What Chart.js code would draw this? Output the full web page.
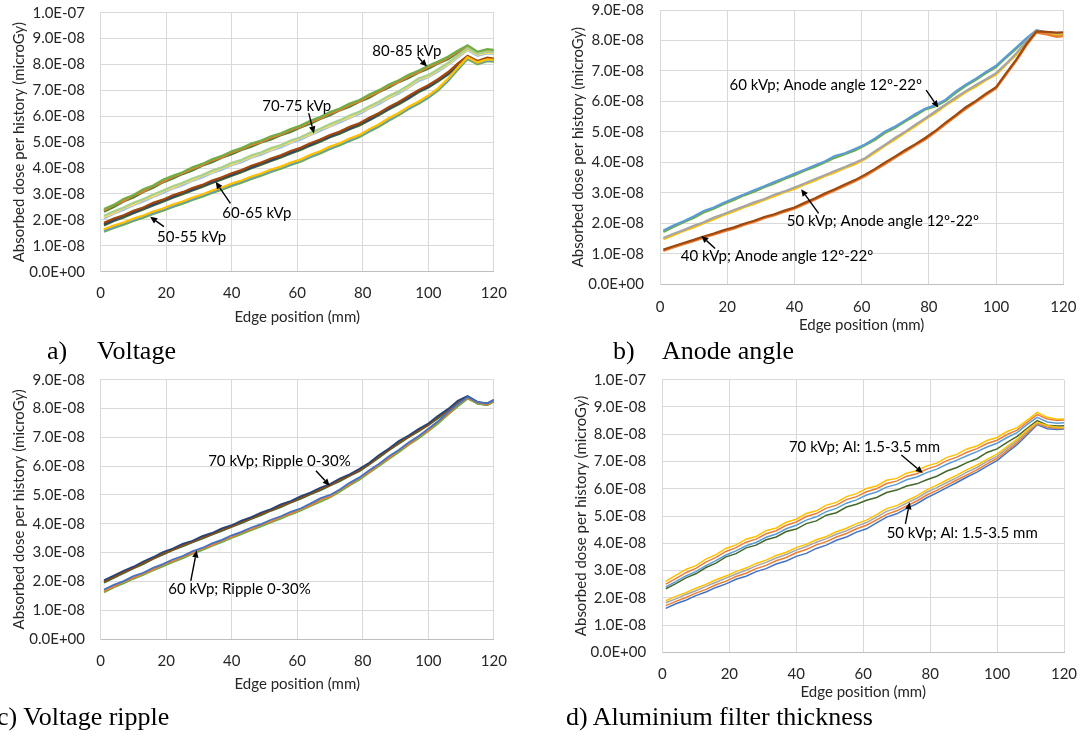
<!DOCTYPE html>
<html>
<head>
<meta charset="utf-8">
<script src="https://cdn.jsdelivr.net/npm/chart.js"></script>
<style>
  html, body { margin: 0; padding: 0; background: #fff; }
  #page { position: relative; width: 1080px; height: 738px; overflow: hidden; }
  canvas { position: absolute; }
  .cap { position: absolute; font-family: "Liberation Serif", "Times New Roman", serif; font-size: 26px; line-height: 26px; color: #000; white-space: nowrap; }
</style>
</head>
<body>
<div id="page">
  <canvas id="chartA" width="540" height="340" style="left:0;top:0"></canvas>
  <canvas id="chartB" width="540" height="340" style="left:540px;top:0"></canvas>
  <canvas id="chartC" width="540" height="340" style="left:0;top:369px"></canvas>
  <canvas id="chartD" width="540" height="340" style="left:540px;top:369px"></canvas>
  <div class="cap" style="left:47px;top:338px">a)</div>
  <div class="cap" style="left:97px;top:338px">Voltage</div>
  <div class="cap" style="left:613px;top:338px">b)</div>
  <div class="cap" style="left:662px;top:338px">Anode angle</div>
  <div class="cap" style="left:-3px;top:704px">c) Voltage ripple</div>
  <div class="cap" style="left:566px;top:704px">d) Aluminium filter thickness</div>
</div>
<script>
// edge positions (mm), values in units of 1E-08
const X_MM = [1,4,7,10,13,16,19,22,25,28,31,34,37,40,43,46,49,52,55,58,61,64,67,70,73,76,79,82,85,88,91,94,97,100,103,106,109,112,115,118,120];

const X_LABELS = ['0','20','40','60','80','100','120'];
const Y_LABELS_10 = ['0.0E+00','1.0E-08','2.0E-08','3.0E-08','4.0E-08','5.0E-08','6.0E-08','7.0E-08','8.0E-08','9.0E-08','1.0E-07'];
const Y_LABELS_9 = Y_LABELS_10.slice(0, 10);
const X_TITLE = 'Edge position (mm)';
const Y_TITLE = 'Absorbed dose per history (microGy)';

// a) Voltage
const A85_1 = [2.42,2.58,2.81,2.96,3.18,3.33,3.55,3.70,3.84,4.03,4.16,4.34,4.47,4.65,4.77,4.95,5.06,5.23,5.34,5.51,5.64,5.83,5.97,6.16,6.30,6.49,6.63,6.84,7.01,7.23,7.39,7.60,7.76,7.95,8.11,8.30,8.53,8.74,8.49,8.59,8.56];
const A85_2 = [2.37,2.57,2.73,2.94,3.10,3.31,3.47,3.67,3.80,3.98,4.11,4.30,4.42,4.61,4.73,4.90,5.01,5.18,5.30,5.47,5.60,5.78,5.92,6.11,6.25,6.44,6.58,6.79,6.96,7.18,7.34,7.55,7.70,7.91,8.06,8.26,8.49,8.70,8.44,8.55,8.52];
const A85_3 = [2.32,2.50,2.71,2.87,3.08,3.24,3.45,3.60,3.77,3.91,4.09,4.23,4.40,4.54,4.70,4.83,4.99,5.11,5.27,5.40,5.57,5.71,5.90,6.04,6.23,6.37,6.56,6.72,6.94,7.11,7.32,7.48,7.68,7.84,8.04,8.20,8.45,8.66,8.40,8.50,8.47];
const A75_1 = [2.16,2.33,2.48,2.66,2.80,2.98,3.13,3.30,3.43,3.60,3.73,3.90,4.03,4.20,4.32,4.49,4.61,4.77,4.89,5.06,5.19,5.37,5.52,5.70,5.85,6.03,6.18,6.39,6.57,6.79,6.97,7.20,7.46,7.59,7.82,8.06,8.35,8.63,8.41,8.50,8.48];
const A75_2 = [2.11,2.27,2.46,2.60,2.78,2.92,3.11,3.24,3.41,3.54,3.71,3.84,4.01,4.14,4.30,4.43,4.59,4.71,4.87,5.00,5.17,5.31,5.50,5.64,5.83,5.97,6.16,6.33,6.55,6.73,6.95,7.14,7.43,7.54,7.79,8.01,8.32,8.59,8.38,8.46,8.44];
const A75_3 = [2.06,2.24,2.39,2.57,2.71,2.89,3.04,3.21,3.34,3.51,3.64,3.81,3.94,4.11,4.23,4.40,4.52,4.68,4.80,4.97,5.10,5.28,5.43,5.61,5.76,5.94,6.09,6.30,6.48,6.70,6.88,7.11,7.36,7.51,7.73,7.98,8.27,8.56,8.34,8.43,8.41];
const A65_1 = [1.89,2.05,2.18,2.35,2.48,2.66,2.78,2.95,3.07,3.23,3.35,3.52,3.64,3.80,3.92,4.09,4.21,4.37,4.49,4.66,4.78,4.96,5.10,5.28,5.41,5.59,5.73,5.94,6.13,6.36,6.55,6.78,7.01,7.20,7.43,7.70,8.03,8.33,8.13,8.26,8.23];
const A65_2 = [1.84,1.99,2.16,2.29,2.46,2.59,2.76,2.89,3.05,3.17,3.33,3.46,3.62,3.74,3.90,4.03,4.19,4.31,4.47,4.60,4.76,4.90,5.08,5.22,5.39,5.53,5.71,5.88,6.11,6.30,6.53,6.72,6.99,7.14,7.41,7.64,8.01,8.29,8.11,8.21,8.20];
const A65_3 = [1.79,1.96,2.10,2.26,2.40,2.56,2.70,2.86,2.99,3.14,3.27,3.43,3.56,3.71,3.84,4.00,4.13,4.28,4.41,4.57,4.70,4.87,5.02,5.19,5.33,5.50,5.65,5.85,6.05,6.27,6.47,6.69,6.93,7.11,7.35,7.61,7.95,8.26,8.06,8.18,8.16];
const A55_1 = [1.64,1.78,1.90,2.05,2.17,2.32,2.44,2.59,2.71,2.86,2.98,3.13,3.25,3.40,3.52,3.67,3.79,3.94,4.06,4.21,4.33,4.51,4.65,4.83,4.96,5.14,5.28,5.50,5.69,5.93,6.13,6.37,6.56,6.80,7.08,7.45,7.88,8.28,8.08,8.20,8.18];
const A55_2 = [1.59,1.72,1.88,1.99,2.15,2.26,2.42,2.53,2.69,2.80,2.96,3.07,3.23,3.34,3.50,3.61,3.77,3.88,4.04,4.15,4.31,4.45,4.63,4.77,4.94,5.08,5.26,5.44,5.67,5.87,6.11,6.31,6.54,6.74,7.06,7.39,7.86,8.24,8.06,8.16,8.15];
const A55_3 = [1.55,1.69,1.82,1.96,2.09,2.23,2.36,2.50,2.63,2.77,2.90,3.04,3.17,3.31,3.44,3.58,3.71,3.85,3.98,4.12,4.25,4.42,4.57,4.74,4.88,5.05,5.20,5.41,5.61,5.84,6.05,6.28,6.48,6.71,7.00,7.36,7.80,8.21,8.01,8.13,8.11];

// b) Anode angle
const B60_1 = [1.77,1.93,2.07,2.23,2.41,2.52,2.68,2.82,2.95,3.09,3.22,3.36,3.49,3.63,3.76,3.90,4.03,4.21,4.30,4.44,4.59,4.79,5.02,5.18,5.38,5.59,5.77,5.88,6.06,6.33,6.55,6.75,6.97,7.17,7.47,7.77,8.07,8.34,8.27,8.22,8.24];
const B60_2 = [1.72,1.88,2.04,2.18,2.36,2.48,2.64,2.77,2.92,3.04,3.19,3.31,3.46,3.58,3.73,3.85,4.00,4.15,4.27,4.39,4.56,4.74,4.97,5.14,5.35,5.54,5.74,5.84,6.02,6.28,6.51,6.71,6.93,7.13,7.44,7.73,8.04,8.31,8.22,8.16,8.18];
const B50_1 = [1.52,1.66,1.78,1.92,2.04,2.19,2.31,2.44,2.56,2.69,2.80,2.94,3.05,3.18,3.31,3.45,3.58,3.72,3.85,3.99,4.14,4.37,4.58,4.81,5.01,5.24,5.45,5.68,5.90,6.13,6.34,6.54,6.73,6.93,7.24,7.58,7.97,8.32,8.27,8.24,8.24];
const B50_2 = [1.48,1.61,1.75,1.87,2.01,2.14,2.28,2.39,2.53,2.64,2.77,2.89,3.02,3.13,3.28,3.40,3.55,3.67,3.82,3.94,4.11,4.32,4.55,4.76,4.98,5.19,5.42,5.63,5.87,6.08,6.31,6.49,6.70,6.88,7.21,7.53,7.94,8.29,8.24,8.20,8.20];
const B40_1 = [1.14,1.25,1.36,1.46,1.57,1.67,1.78,1.87,1.99,2.09,2.21,2.30,2.42,2.52,2.68,2.82,2.98,3.12,3.28,3.42,3.60,3.79,4.00,4.20,4.41,4.60,4.81,5.04,5.31,5.55,5.81,6.02,6.26,6.47,6.93,7.37,7.88,8.30,8.28,8.26,8.27];
const B40_2 = [1.10,1.21,1.32,1.42,1.53,1.63,1.74,1.83,1.95,2.05,2.17,2.26,2.38,2.48,2.63,2.78,2.93,3.08,3.23,3.38,3.55,3.75,3.95,4.16,4.36,4.56,4.76,5.00,5.26,5.51,5.76,5.98,6.21,6.43,6.88,7.33,7.83,8.26,8.20,8.12,8.14];

// c) Voltage ripple
const C70_1 = [2.04,2.20,2.37,2.51,2.69,2.84,3.02,3.14,3.30,3.41,3.57,3.68,3.84,3.95,4.11,4.23,4.39,4.51,4.67,4.79,4.95,5.08,5.25,5.38,5.57,5.72,5.91,6.12,6.39,6.61,6.87,7.06,7.29,7.48,7.75,7.98,8.27,8.43,8.23,8.18,8.30];
const C70_2 = [2.00,2.15,2.33,2.47,2.65,2.80,2.98,3.10,3.26,3.37,3.53,3.64,3.80,3.91,4.07,4.19,4.35,4.47,4.63,4.75,4.91,5.04,5.21,5.34,5.53,5.68,5.87,6.08,6.35,6.57,6.83,7.02,7.25,7.44,7.71,7.94,8.23,8.40,8.20,8.14,8.26];
const C70_3 = [1.95,2.12,2.28,2.45,2.60,2.78,2.93,3.08,3.21,3.35,3.48,3.62,3.75,3.89,4.02,4.17,4.30,4.45,4.58,4.73,4.86,5.02,5.16,5.32,5.48,5.66,5.82,6.06,6.30,6.55,6.78,7.00,7.20,7.42,7.66,7.92,8.18,8.38,8.17,8.12,8.24];
const C60_1 = [1.72,1.88,2.01,2.18,2.30,2.47,2.60,2.76,2.88,3.04,3.16,3.32,3.44,3.60,3.72,3.87,3.99,4.14,4.26,4.41,4.53,4.70,4.88,5.00,5.19,5.42,5.61,5.86,6.08,6.34,6.56,6.82,7.04,7.30,7.56,7.87,8.15,8.40,8.22,8.17,8.29];
const C60_2 = [1.67,1.82,1.99,2.12,2.28,2.41,2.58,2.70,2.86,2.98,3.14,3.26,3.42,3.54,3.70,3.81,3.97,4.08,4.24,4.35,4.51,4.64,4.83,4.94,5.17,5.36,5.59,5.80,6.06,6.28,6.54,6.76,7.02,7.24,7.54,7.81,8.13,8.37,8.20,8.14,8.27];
const C60_3 = [1.62,1.79,1.93,2.09,2.22,2.38,2.52,2.67,2.80,2.95,3.08,3.23,3.36,3.51,3.64,3.78,3.91,4.05,4.18,4.32,4.45,4.61,4.76,4.91,5.11,5.33,5.53,5.77,6.00,6.25,6.48,6.73,6.96,7.21,7.48,7.78,8.07,8.34,8.17,8.12,8.24];

// d) Aluminium filter thickness
const D70_1 = [2.60,2.82,3.04,3.18,3.42,3.58,3.81,3.94,4.15,4.25,4.46,4.56,4.77,4.88,5.09,5.19,5.40,5.50,5.71,5.82,6.01,6.10,6.31,6.38,6.57,6.66,6.84,6.94,7.15,7.26,7.46,7.57,7.77,7.88,8.10,8.24,8.52,8.80,8.62,8.55,8.56];
const D70_2 = [2.50,2.70,2.92,3.08,3.31,3.48,3.70,3.84,4.04,4.15,4.35,4.46,4.66,4.78,4.98,5.09,5.29,5.40,5.60,5.71,5.89,6.00,6.19,6.28,6.46,6.55,6.72,6.84,7.03,7.16,7.34,7.47,7.66,7.78,7.99,8.15,8.44,8.72,8.56,8.50,8.52];
const D70_3 = [2.40,2.59,2.80,2.96,3.18,3.36,3.57,3.72,3.91,4.03,4.22,4.34,4.53,4.66,4.85,4.97,5.16,5.28,5.47,5.59,5.77,5.88,6.06,6.16,6.33,6.43,6.59,6.72,6.90,7.05,7.21,7.36,7.53,7.67,7.88,8.06,8.36,8.62,8.45,8.40,8.42];
const D70_4 = [2.33,2.52,2.73,2.88,3.11,3.27,3.50,3.62,3.83,3.93,4.13,4.23,4.43,4.52,4.72,4.82,5.03,5.12,5.33,5.43,5.58,5.68,5.86,5.95,6.10,6.18,6.33,6.46,6.65,6.78,6.96,7.10,7.33,7.46,7.70,7.92,8.22,8.50,8.33,8.30,8.31];
const D50_1 = [1.89,2.05,2.19,2.35,2.49,2.66,2.80,2.96,3.09,3.26,3.38,3.55,3.67,3.84,3.96,4.13,4.25,4.42,4.55,4.72,4.85,5.05,5.27,5.38,5.56,5.74,5.96,6.13,6.32,6.50,6.70,6.87,7.08,7.27,7.55,7.82,8.15,8.44,8.32,8.26,8.25];
const D50_2 = [1.82,1.96,2.12,2.26,2.42,2.57,2.72,2.87,3.01,3.17,3.30,3.46,3.59,3.75,3.88,4.04,4.17,4.33,4.46,4.63,4.76,4.96,5.17,5.29,5.47,5.65,5.87,6.04,6.23,6.41,6.61,6.78,7.00,7.19,7.48,7.76,8.11,8.41,8.30,8.24,8.23];
const D50_3 = [1.71,1.87,2.01,2.17,2.31,2.48,2.61,2.78,2.90,3.07,3.19,3.36,3.48,3.65,3.77,3.94,4.06,4.23,4.36,4.53,4.66,4.86,5.06,5.19,5.37,5.55,5.77,5.94,6.13,6.32,6.51,6.69,6.91,7.11,7.40,7.69,8.05,8.38,8.26,8.21,8.21];
const D50_4 = [1.61,1.78,1.91,2.08,2.21,2.38,2.51,2.68,2.79,2.96,3.07,3.24,3.35,3.52,3.63,3.81,3.93,4.11,4.23,4.41,4.53,4.75,4.96,5.08,5.28,5.45,5.67,5.85,6.04,6.23,6.43,6.61,6.83,7.03,7.33,7.62,7.98,8.35,8.20,8.17,8.19];

// labels with arrows: text start [mm, value], arrow from -> to
const NOTES_A = [
  { text: '80-85 kVp', at: [82.9, 8.52], from: [96.8, 8.30], to: [99.6, 7.92] },
  { text: '70-75 kVp', at: [49.3, 6.40], from: [63.5, 6.12], to: [65.1, 5.34] },
  { text: '60-65 kVp', at: [37.1, 2.25], from: [39.6, 2.64], to: [35.1, 3.47] },
  { text: '50-55 kVp', at: [17.2, 1.33], from: [19.3, 1.74], to: [15.1, 2.12] }
];
const NOTES_B = [
  { text: '60 kVp; Anode angle 12º-22º', at: [20.7, 6.54], from: [79.2, 6.37], to: [82.8, 5.80] },
  { text: '50 kVp; Anode angle 12º-22º', at: [37.7, 2.06], from: [47.2, 2.33], to: [42.0, 3.12] },
  { text: '40 kVp; Anode angle 12º-22º', at: [6.2, 0.91], from: [16.4, 1.18], to: [12.3, 1.59] }
];
const NOTES_C = [
  { text: '70 kVp; Ripple 0-30%', at: [32.8, 6.19], from: [65.7, 5.84], to: [69.9, 5.32] },
  { text: '60 kVp; Ripple 0-30%', at: [20.6, 1.74], from: [27.5, 2.02], to: [29.3, 3.07] }
];
const NOTES_D = [
  { text: '70 kVp; Al: 1.5-3.5 mm', at: [37.8, 7.52], from: [71.4, 7.24], to: [77.8, 6.58] },
  { text: '50 kVp; Al: 1.5-3.5 mm', at: [67.0, 4.37], from: [72.6, 4.71], to: [73.9, 5.50] }
];

const FONT = 'Lato';
const TXT = '#262626';
const GRID = '#d9d9d9';

function arrowPlugin(notes) {
  return {
    id: 'arrows',
    afterDatasetsDraw(chart) {
      const { ctx, scales: { x, y } } = chart;
      ctx.save();
      ctx.font = '15px ' + FONT;
      ctx.fillStyle = '#000';
      ctx.strokeStyle = '#000';
      ctx.lineWidth = 1.4;
      ctx.textBaseline = 'middle';
      notes.forEach(n => {
        const x0 = x.getPixelForValue(n.from[0]), y0 = y.getPixelForValue(n.from[1]);
        const x1 = x.getPixelForValue(n.to[0]), y1 = y.getPixelForValue(n.to[1]);
        const a = Math.atan2(y1 - y0, x1 - x0);
        const bx = x1 - 7 * Math.cos(a), by = y1 - 7 * Math.sin(a);
        ctx.beginPath();
        ctx.moveTo(x0, y0);
        ctx.lineTo(bx, by);
        ctx.stroke();
        ctx.beginPath();
        ctx.moveTo(x1, y1);
        ctx.lineTo(bx + 3.2 * Math.sin(a), by - 3.2 * Math.cos(a));
        ctx.lineTo(bx - 3.2 * Math.sin(a), by + 3.2 * Math.cos(a));
        ctx.closePath();
        ctx.fill();
        ctx.fillText(n.text, x.getPixelForValue(n.at[0]), y.getPixelForValue(n.at[1]));
      });
      ctx.restore();
    }
  };
}

function buildPanel(id, geo, yMax, yLabels, groups, notes) {
  const datasets = [];
  groups.forEach(g => {
    g.lines.forEach((ys, i) => {
      datasets.push({
        data: ys.map((v, j) => ({ x: X_MM[j], y: v })),
        borderColor: g.colors[i],
        borderWidth: g.width,
        pointRadius: 0,
        tension: 0,
        fill: false
      });
    });
  });
  const tickFont = { family: FONT, size: 15 };
  new Chart(document.getElementById(id), {
    type: 'line',
    data: { datasets },
    options: {
      responsive: false,
      animation: false,
      events: [],
      layout: { padding: { left: 0, top: geo.top, right: geo.right, bottom: geo.bottom } },
      plugins: { legend: { display: false }, tooltip: { enabled: false } },
      scales: {
        x: {
          type: 'linear', min: 0, max: 120,
          afterFit: s => { s.height = geo.xh; s.paddingLeft = 0; s.paddingRight = 0; },
          ticks: { stepSize: 20, padding: geo.xpad, maxRotation: 0, autoSkip: false, color: TXT, font: tickFont,
                   callback: (v, i) => X_LABELS[i] },
          grid: { color: GRID, drawTicks: false },
          border: { color: '#bfbfbf' },
          title: { display: true, text: X_TITLE, color: TXT, font: tickFont, padding: { top: 0, bottom: 0 } }
        },
        y: {
          type: 'linear', min: 0, max: yMax,
          afterFit: s => { s.width = geo.yw; s.paddingTop = 0; s.paddingBottom = 0; },
          ticks: { stepSize: 1, padding: geo.ypad, color: TXT, font: tickFont,
                   callback: (v, i) => yLabels[i] },
          grid: { color: GRID, drawTicks: false },
          border: { color: GRID },
          title: { display: true, text: Y_TITLE, color: TXT, font: tickFont, padding: { top: geo.ytp, bottom: 0 } }
        }
      }
    },
    plugins: [arrowPlugin(notes)]
  });
}

function build() {
  Chart.defaults.font.family = FONT;

  buildPanel('chartA',
    { top: 12.7, right: 46.2, bottom: 14, xh: 54.3, xpad: 12.8, yw: 100.7, ypad: 15.7, ytp: 10 },
    10, Y_LABELS_10,
    [
      { lines: [A55_1, A55_2, A55_3], colors: ['#FFC000', '#5B9BD5', '#70AD47'], width: 2.3 },
      { lines: [A65_1, A65_2, A65_3], colors: ['#9E480E', '#264478', '#43682B'], width: 2.3 },
      { lines: [A75_1, A75_2, A75_3], colors: ['#A9D18E', '#FFD966', '#9DC3E6'], width: 2.3 },
      { lines: [A85_1, A85_2, A85_3], colors: ['#70AD47', '#ED7D31', '#548235'], width: 2.3 }
    ], NOTES_A);

  buildPanel('chartB',
    { top: 10, right: 16.7, bottom: 6, xh: 49.6, xpad: 14.1, yw: 120, ypad: 16, ytp: 29 },
    9, Y_LABELS_9,
    [
      { lines: [B40_1, B40_2], colors: ['#9E480E', '#ED7D31'], width: 2.2 },
      { lines: [B50_1, B50_2], colors: ['#A5A5A5', '#FFC000'], width: 2.2 },
      { lines: [B60_1, B60_2], colors: ['#5B9BD5', '#70AD47'], width: 2.2 }
    ], NOTES_B);

  buildPanel('chartC',
    { top: 10.7, right: 46.2, bottom: 16, xh: 54, xpad: 13, yw: 100.7, ypad: 15.7, ytp: 10 },
    9, Y_LABELS_9,
    [
      { lines: [C60_1, C60_2, C60_3], colors: ['#4472C4', '#ED7D31', '#70AD47'], width: 1.8 },
      { lines: [C70_1, C70_2, C70_3], colors: ['#264478', '#9E480E', '#43682B'], width: 1.8 }
    ], NOTES_C);

  buildPanel('chartD',
    { top: 10.7, right: 16, bottom: 8, xh: 48.7, xpad: 12.7, yw: 122.4, ypad: 16.2, ytp: 32 },
    10, Y_LABELS_10,
    [
      { lines: [D50_1, D50_2, D50_3, D50_4], colors: ['#FFC000', '#A5A5A5', '#ED7D31', '#4472C4'], width: 1.5 },
      { lines: [D70_1, D70_2, D70_3, D70_4], colors: ['#FFC000', '#ED7D31', '#5B9BD5', '#43682B'], width: 1.5 }
    ], NOTES_D);
}

Promise.all([
  document.fonts.load('15px Lato'),
  document.fonts.load('26px "Liberation Serif"')
]).catch(() => {}).then(build);
</script>
</body>
</html>
